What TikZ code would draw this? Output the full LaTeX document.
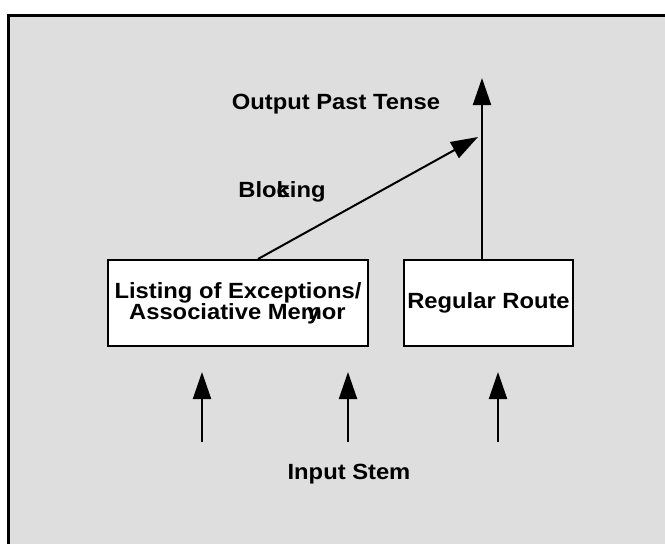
\documentclass[tikz,border=0pt]{standalone}
\usepackage{fontspec}
\setmainfont{Liberation Sans}[FakeStretch=1.08]
\usetikzlibrary{arrows.meta}
\definecolor{panelgray}{HTML}{DEDEDE}

\begin{document}
\begin{tikzpicture}[x=1pt,y=-1pt,
    every node/.style={font=\bfseries\fontsize{22}{21}\selectfont,inner sep=0pt},
    route/.style={draw,line width=2pt,fill=white,align=center},
    feed/.style={line width=2pt,-{Triangle[length=27pt,width=18pt]}}]
      \useasboundingbox (0,0) rectangle (665,544);
      \fill[panelgray] (8,15) rectangle (670,550);
      \draw[line width=3pt] (8,550) -- (8,15) -- (670,15);

      \node[route,minimum width=260pt,minimum height=86pt] (listing) at (238,303)
        {Listing of Exceptions/\\Associative Memor\kern-1.75em y\kern1.2em};
      \node[route,minimum width=169pt,minimum height=86pt] (regular) at (488.5,303)
        {Regular Route};

      \node (output) at (336,104) {Output Past Tense};
      \node (blocking) at (282,192) {Blo\rlap{c}king};
      \node (input) at (349,474) {Input Stem};

      \coordinate (pasttip) at (482,78);
      \coordinate (blocktip) at (478,137);
      \draw[feed] (regular.north -| pasttip) -- (pasttip);
      \draw[feed] ([xshift=20pt]listing.north) -- (blocktip);

      \foreach \x [count=\i] in {202,348,498} {
        \coordinate (stem\i) at (\x,442);
        \coordinate (stemtip\i) at (\x,372);
        \draw[feed] (stem\i) -- (stemtip\i);
      }
    \end{tikzpicture}
\end{document}
